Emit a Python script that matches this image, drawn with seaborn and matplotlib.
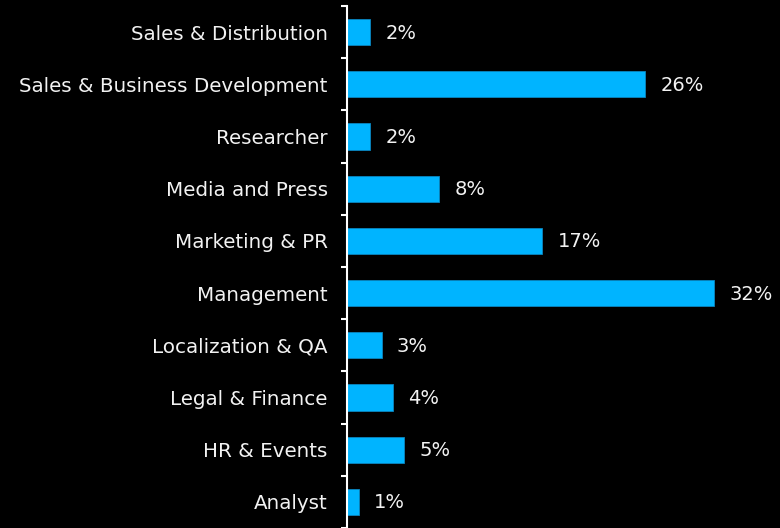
import seaborn as sns
import matplotlib.pyplot as plt
import pandas as pd
import numpy as np

# ── podaci ─────────────────────────────────────────────────────────────────────
kategorije = [
    "Sales & Distribution",
    "Sales & Business Development",
    "Researcher",
    "Media and Press",
    "Marketing & PR",
    "Management",
    "Localization & QA",
    "Legal & Finance",
    "HR & Events",
    "Analyst",
]
postoci = [2, 26, 2, 8, 17, 32, 3, 4, 5, 1]

df = pd.DataFrame({"Kategorija": kategorije, "Postotak": postoci})

# ── stil ───────────────────────────────────────────────────────────────────────
sns.set_style("dark")
plt.rcParams["font.family"] = ["DejaVu Sans"]

fig = plt.figure(figsize=(7.8, 5.28), dpi=100, facecolor="black")
ax = fig.add_axes([0.445, 0.0, 0.555, 0.9886])
ax.set_facecolor("black")

sns.barplot(
    ax=ax,
    data=df,
    x="Postotak",
    y="Kategorija",
    orient="h",
    color="#00B4FF",
    saturation=1,
    width=0.5,
    edgecolor="#0a86c0",
    linewidth=0.6,
)

ax.set_xlim(0, 37.75)
ax.set_ylim(len(kategorije) - 0.5, -0.5)
ax.set_xlabel("")
ax.set_ylabel("")
ax.set_xticks([])

# oznake vrijednosti
for i, v in enumerate(postoci):
    ax.text(v + 1.35, i + 0.02, f"{v}%", va="center", ha="left", color="#f2f2f2", fontsize=14)

# kvačice na granicama kategorija
ax.set_yticks(np.arange(len(kategorije)))
ax.set_yticklabels(kategorije, color="#f2f2f2", fontsize=14.3)
ax.tick_params(axis="y", which="major", left=False, length=0, pad=14)
ax.set_yticks(np.arange(len(kategorije) + 1) - 0.5, minor=True)
ax.tick_params(axis="y", which="minor", left=True, length=4, width=1.5,
               color="white", direction="out")

for s in ["top", "right", "bottom"]:
    ax.spines[s].set_visible(False)
ax.spines["left"].set_color("white")
ax.spines["left"].set_linewidth(1.5)
ax.grid(False)

plt.savefig("out.png", dpi=100, facecolor="black")
